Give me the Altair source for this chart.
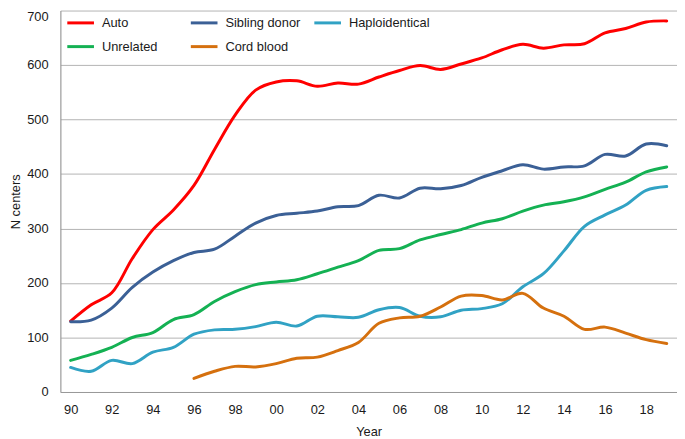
import altair as alt
import pandas as pd

years = list(range(1990, 2020))

auto = [130, 160, 182, 245, 298, 334, 379, 445, 508, 554, 569, 571, 561, 567, 565,
        578, 590, 599, 592, 602, 613, 628, 638, 631, 637, 639, 659, 667, 679, 681]
sibling = [129, 132, 154, 192, 220, 241, 256, 262, 286, 310, 324, 328, 332, 340, 342,
           361, 356, 374, 373, 379, 394, 406, 417, 409, 413, 415, 436, 433, 455, 452]
haplo = [45, 38, 58, 52, 73, 82, 106, 114, 115, 120, 128, 121, 139, 138, 137,
         151, 155, 139, 138, 150, 153, 162, 193, 217, 259, 304, 325, 343, 370, 377]
unrelated = [58, 69, 82, 100, 109, 133, 142, 166, 184, 197, 202, 206, 217, 229, 241,
             260, 263, 279, 289, 298, 310, 318, 332, 343, 349, 358, 372, 385, 404, 413]
cord = [None, None, None, None, None, None, 25, 38, 47, 46, 52, 62, 64, 76, 91,
        126, 136, 139, 156, 176, 177, 169, 181, 154, 139, 115, 119, 108, 96, 89]

# drawing order (last on top)
draw_names = ["Auto", "Sibling donor", "Haploidentical", "Unrelated", "Cord blood"]
draw_values = [auto, sibling, haplo, unrelated, cord]

# legend fills column by column (two rows): Auto/Unrelated, Sibling donor/Cord blood, Haploidentical
legend_names = ["Auto", "Unrelated", "Sibling donor", "Cord blood", "Haploidentical"]
legend_colors = ["#ff0000", "#14b153", "#3b6096", "#d5700e", "#31a2c4"]

y_ticks = [0, 100, 200, 300, 400, 500, 600, 700]
x_ticks = list(range(1990, 2019, 2))

rows = []
for idx, (name, vals) in enumerate(zip(draw_names, draw_values)):
    for yr, v in zip(years, vals):
        if v is not None:
            rows.append({"Year": yr, "Centers": v, "Type": name, "z": idx})
df = pd.DataFrame(rows)

FONT = "Liberation Sans"

base_axis_x = alt.Axis(
    values=x_ticks,
    labelExpr="substring(toString(datum.value), 2)",
    grid=False,
    ticks=False,
    tickSize=0,
    labelBaseline="alphabetic",
    labelPadding=21.5,
    title="Year",
    titleBaseline="alphabetic",
    titleY=43.7,
    titleX=312,
    titleAlign="center",
)
base_axis_y = alt.Axis(
    values=y_ticks,
    grid=True,
    ticks=False,
    tickSize=0,
    labelPadding=12.4,
    labelBaseline={"condition": {"test": "datum.value == 700", "value": "top"}, "value": "middle"},
    title="N centers",
    titleAngle=270,
    titleBaseline="alphabetic",
    titleX=-41,
    titleY=193,
    titleAlign="center",
)

chart = alt.Chart(df).mark_line(
    strokeWidth=3, interpolate="catmull-rom", strokeCap="round", clip=False
).encode(
    x=alt.X("Year:Q", scale=alt.Scale(domain=[1989.5, 2019.5], nice=False, zero=False), axis=base_axis_x),
    y=alt.Y("Centers:Q", scale=alt.Scale(domain=[0, 700], nice=False), axis=base_axis_y),
    color=alt.Color(
        "Type:N",
        scale=alt.Scale(domain=legend_names, range=legend_colors),
        sort=legend_names,
        legend=alt.Legend(
            title=None,
            orient="none",
            legendX=5.5,
            legendY=-2.5,
            columns=3,
            gridAlign="all",
            columnPadding=1,
            rowPadding=2,
            symbolType="stroke",
            symbolSize=729,
            symbolStrokeWidth=3,
            labelOffset=6.5,
            labelFont=FONT,
            labelFontSize=13,
            labelColor="#1a1a1a",
            padding=0,
        ),
    ),
    detail=alt.Detail("z:O"),
).properties(
    width=624,
    height=386,
    autosize=alt.AutoSizeParams(type="none"),
    padding={"left": 53, "top": 0, "right": 0, "bottom": 45},
).configure_view(
    stroke=None
).configure_axis(
    labelFont=FONT,
    labelFontSize=13,
    labelColor="#1a1a1a",
    titleFont=FONT,
    titleFontSize=13,
    titleFontWeight="normal",
    titleColor="#1a1a1a",
    gridColor="#b3b3b3",
    gridWidth=1,
    domainColor="#999999",
    domainWidth=1.2,
)

chart.save("out.html", embed_options={"renderer": "svg", "actions": False})
